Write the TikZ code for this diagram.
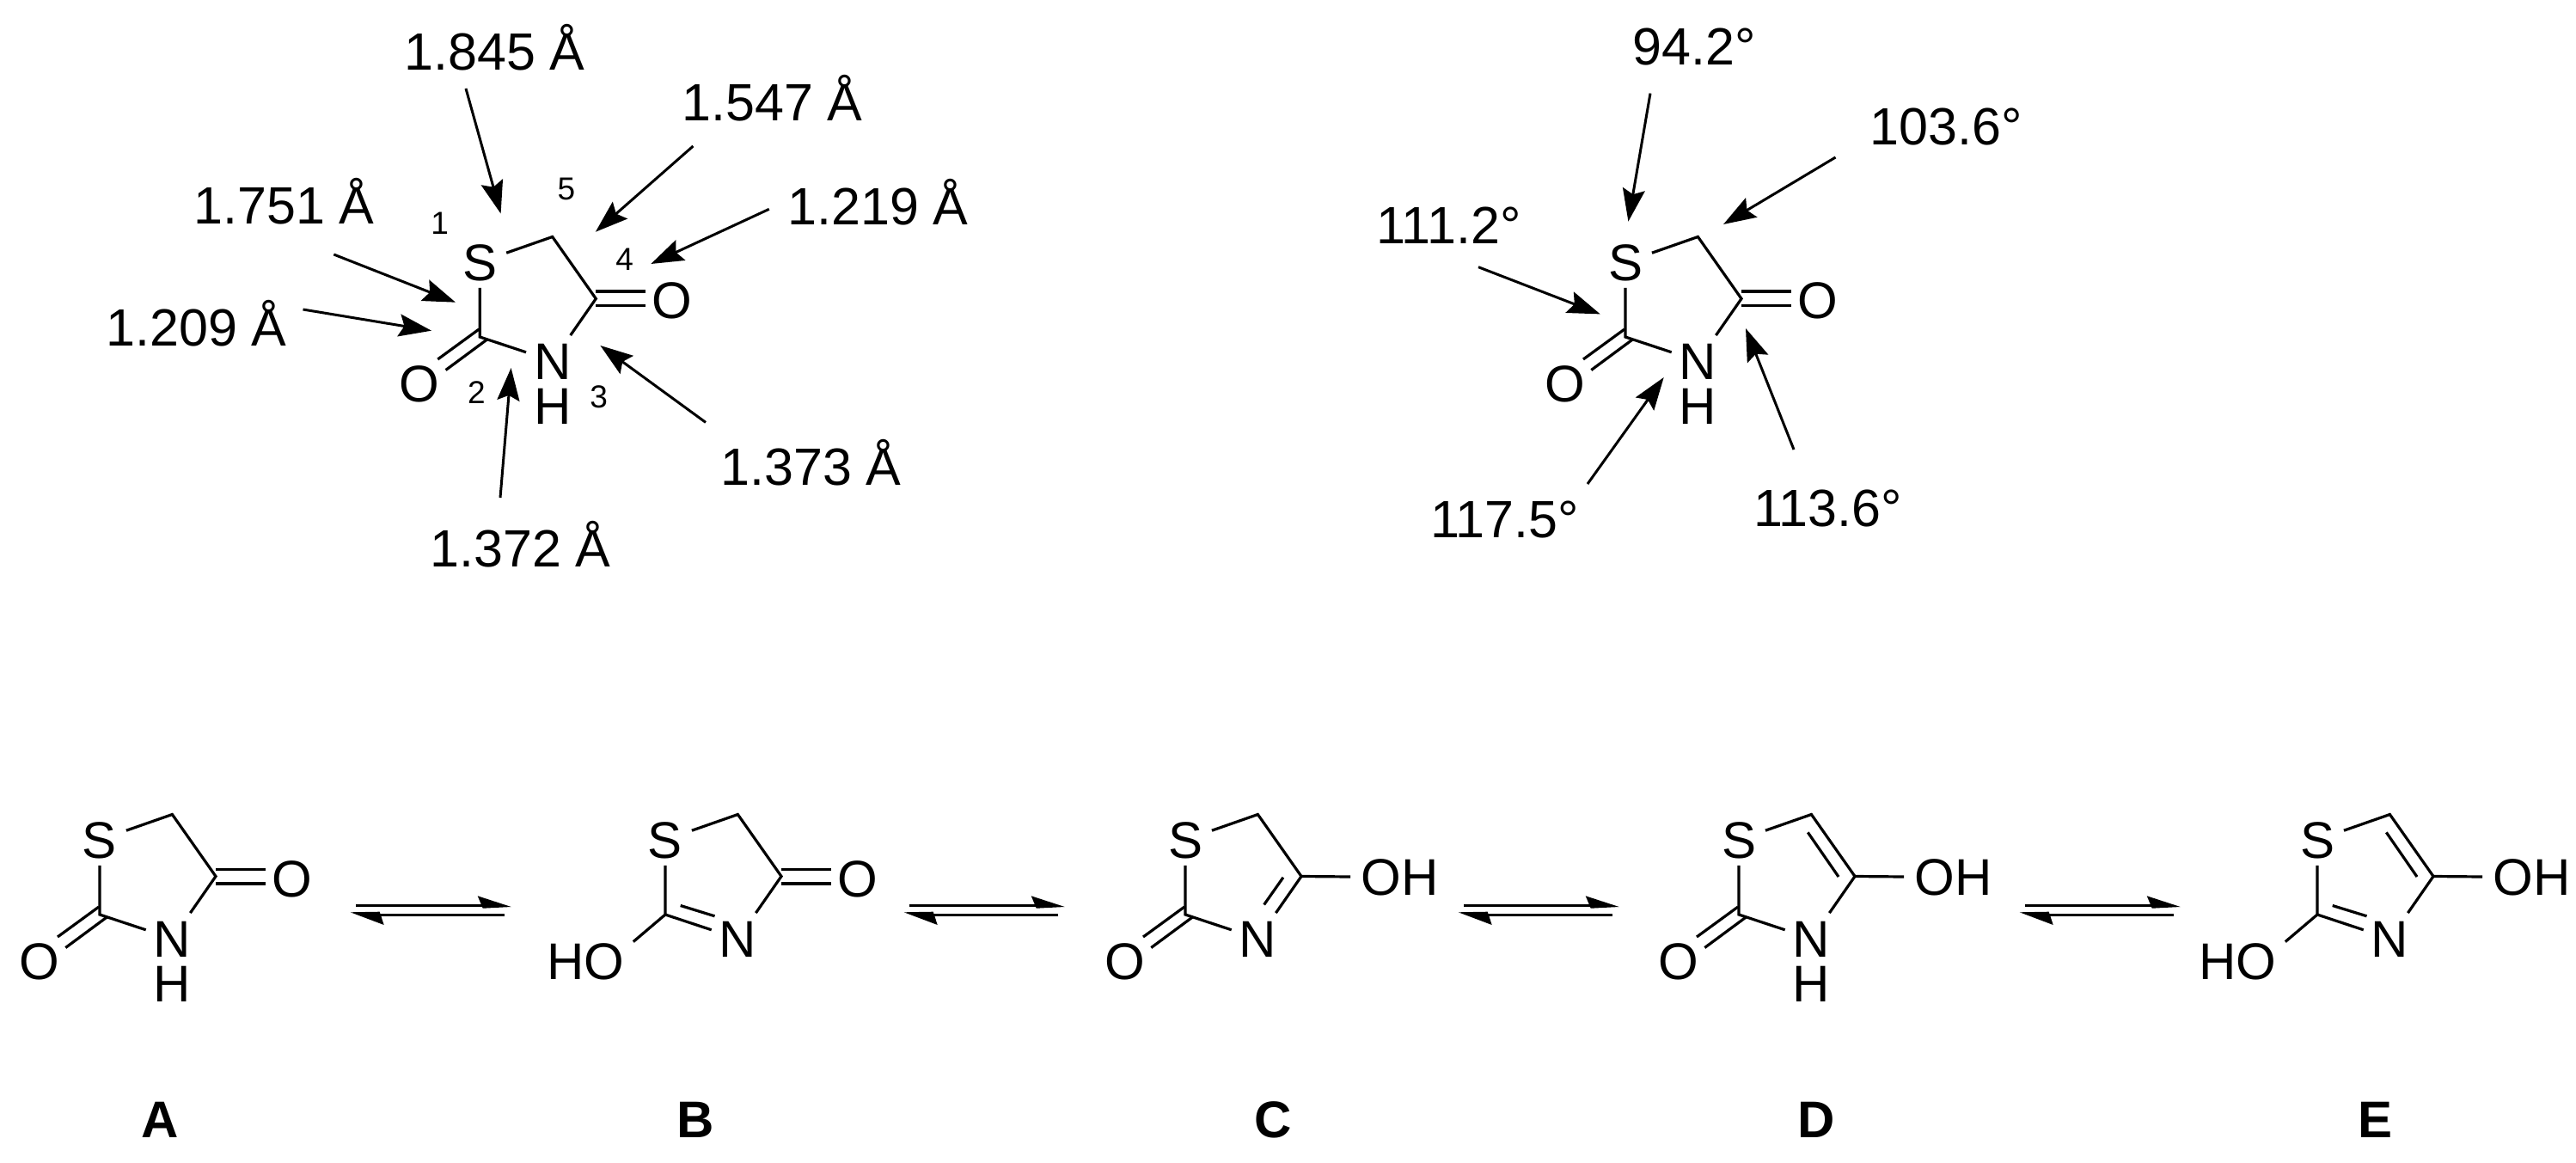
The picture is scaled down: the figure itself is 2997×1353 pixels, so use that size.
\documentclass[tikz,border=0pt]{standalone}
\usepackage{fontspec}
\setmainfont{Liberation Sans}
\usetikzlibrary{arrows.meta}
\tikzset{
  x=0.5pt, y=-0.5pt,
  bond/.style={line width=1.6pt, line join=miter, line cap=butt},
  atom/.style={inner sep=0pt, minimum width=30.5pt, minimum height=29.5pt, text height=21.5pt, text depth=0pt, font=\fontsize{30}{32}\selectfont},
  group/.style={inner sep=0pt, text height=21.5pt, text depth=0pt, font=\fontsize{30}{32}\selectfont},
  value/.style={inner sep=0pt, anchor=base west, font=\fontsize{30.5}{33}\selectfont},
  locant/.style={inner sep=0pt, font=\fontsize{18.5}{20}\selectfont},
  tag/.style={inner sep=0pt, anchor=base, font=\fontsize{30}{32}\selectfont\bfseries},
  pointer/.style={line width=1.5pt, -{Stealth[length=19pt,width=13pt,inset=3pt]}},
  eqline/.style={line width=1.8pt},
}
% five-membered ring, local origin at S
\newcommand{\ringbase}{%
  \node[atom] (S) at (0,0) {S};
  \node[atom] (N) at (84.6,115) {N};
  \coordinate (C5) at (84.4,-29.5);
  \coordinate (C4) at (135,42.5);
  \coordinate (C2) at (0,87);
  \draw[bond] (S) -- (C5) -- (C4) -- (N) -- (C2) -- (S);
}
\newcommand{\ketoFour}{%
  \node[atom] (O4) at (224,44.5) {O};
  \draw[bond] ([yshift=4.2pt]C4) -- ([yshift=4.2pt]C4 -| O4.west);
  \draw[bond] ([yshift=-4.2pt]C4) -- ([yshift=-4.2pt]C4 -| O4.west);
}
\newcommand{\ketoTwo}{%
  \node[atom] (O2) at (-70.4,140.5) {O};
  \coordinate (p1) at (-1,78);    \coordinate (p2) at (-49,113);
  \coordinate (q1) at (9,89.5);   \coordinate (q2) at (-39.7,125.5);
  \draw[bond] (p1) -- (p2);
  \draw[bond] (q1) -- (q2);
}
\newcommand{\imineH}{\node[group] (H) at (84.6,167) {H};}
\newcommand{\hydroxyFour}{%
  \node[group, anchor=west] (OH) at (204,43) {OH};
  \draw[bond] (C4) -- ([xshift=-6pt]OH.west);
}
\newcommand{\hydroxyTwo}{%
  \node[group] (HO) at (-92.6,140.5) {HO};
  \draw[bond] (C2) -- ([xshift=5pt]HO.north east);
}
\newcommand{\innerTwoN}{%
  \coordinate (r1) at (17.7,76.5); \coordinate (r2) at (57.5,88.8);
  \draw[bond] (r1) -- (r2);
}
\newcommand{\innerFourN}{%
  \coordinate (s1) at (113.9,43.8); \coordinate (s2) at (91.6,75.5);
  \draw[bond] (s1) -- (s2);
}
\newcommand{\innerFiveFour}{%
  \coordinate (t1) at (80.3,-8.6); \coordinate (t2) at (116,43);
  \draw[bond] (t1) -- (t2);
}
% equilibrium arrows, local origin at left end of the upper line
\newcommand{\equil}{%
  \coordinate (a1) at (0,0);        \coordinate (a4) at (147,0);
  \coordinate (a2) at (180.4,1.7);  \coordinate (a3) at (141.4,-11);
  \coordinate (a5) at (147.4,3.4);
  \coordinate (b1) at (173,11);     \coordinate (b4) at (27,11);
  \coordinate (b2) at (-6.6,8);     \coordinate (b3) at (32.4,22.7);
  \coordinate (b5) at (27.4,7.4);
  \draw[eqline] (a1) -- (a4);
  \fill (a3) -- (a2) -- (a5) -- cycle;
  \draw[eqline] (b1) -- (b4);
  \fill (b2) -- (b5) -- (b3) -- cycle;
}
\begin{document}
\begin{tikzpicture}
\useasboundingbox (0,0) rectangle (2997,1353);

% top-left molecule
\begin{scope}[shift={(558.3,305)}, name prefix=u-]
  \ringbase \ketoFour \ketoTwo \imineH
\end{scope}
\node[locant] (n1) at (511.7,259.3) {1};
\node[locant] (n5) at (659,220) {5};
\node[locant] (n4) at (726.7,301.7) {4};
\node[locant] (n2) at (554.3,456.7) {2};
\node[locant] (n3) at (696.7,461.7) {3};

\node[value] (d1) at (470,81.7) {1.845 Å};
\node[value] (d2) at (793,141) {1.547 Å};
\node[value] (d3) at (225,261) {1.751 Å};
\node[value] (d4) at (916,262) {1.219 Å};
\node[value] (d5) at (123,402) {1.209 Å};
\node[value] (d6) at (838,564) {1.373 Å};
\node[value] (d7) at (500,659) {1.372 Å};

\coordinate (d1s) at (542,103);     \coordinate (d1e) at (582.6,248.5);
\coordinate (d2s) at (806.4,170);   \coordinate (d2e) at (692.8,269.8);
\coordinate (d3s) at (388.3,296);   \coordinate (d3e) at (530,351.7);
\coordinate (d4s) at (894.8,243.3); \coordinate (d4e) at (757.3,307);
\coordinate (d5s) at (352.5,360);   \coordinate (d5e) at (502,384.7);
\coordinate (d6s) at (821,491.4);   \coordinate (d6e) at (698.4,402);
\coordinate (d7s) at (582,579);     \coordinate (d7e) at (594.6,428);
\foreach \k in {1,...,7} \draw[pointer] (d\k s) -- (d\k e);

% top-right molecule
\begin{scope}[shift={(1891,305)}, name prefix=v-]
  \ringbase \ketoFour \ketoTwo \imineH
\end{scope}
\node[value] (g1) at (1899.5,76) {94.2°};
\node[value] (g2) at (2175,168.5) {103.6°};
\node[value] (g3) at (1601,284) {111.2°};
\node[value] (g4) at (1664,625) {117.5°};
\node[value] (g5) at (2040,612) {113.6°};

\coordinate (g1s) at (1920,108.6);  \coordinate (g1e) at (1894.4,257.7);
\coordinate (g2s) at (2135.5,183);  \coordinate (g2e) at (2005,261);
\coordinate (g3s) at (1720,310.7);  \coordinate (g3e) at (1861.7,365.4);
\coordinate (g4s) at (1847,563);    \coordinate (g4e) at (1935.7,439);
\coordinate (g5s) at (2087,523);    \coordinate (g5e) at (2031,382);
\foreach \k in {1,...,5} \draw[pointer] (g\k s) -- (g\k e);

% tautomers
\begin{scope}[shift={(116,977)}, name prefix=a-]
  \ringbase \ketoFour \ketoTwo \imineH
\end{scope}
\begin{scope}[shift={(774,977)}, name prefix=b-]
  \ringbase \ketoFour \hydroxyTwo \innerTwoN
\end{scope}
\begin{scope}[shift={(1379,977)}, name prefix=c-]
  \ringbase \hydroxyFour \ketoTwo \innerFourN
\end{scope}
\begin{scope}[shift={(2023,977)}, name prefix=d-]
  \ringbase \hydroxyFour \ketoTwo \imineH \innerFiveFour
\end{scope}
\begin{scope}[shift={(2696,977)}, name prefix=e-]
  \ringbase \hydroxyFour \hydroxyTwo \innerTwoN \innerFiveFour
\end{scope}

\begin{scope}[shift={(414.3,1053.3)}, name prefix=e1-] \equil \end{scope}
\begin{scope}[shift={(1058.3,1053.3)}, name prefix=e2-] \equil \end{scope}
\begin{scope}[shift={(1703.3,1053.3)}, name prefix=e3-] \equil \end{scope}
\begin{scope}[shift={(2356.3,1053.3)}, name prefix=e4-] \equil \end{scope}

\node[tag] (la) at (186,1323) {A};
\node[tag] (lb) at (809,1323) {B};
\node[tag] (lc) at (1481,1323) {C};
\node[tag] (ld) at (2113,1323) {D};
\node[tag] (le) at (2763,1323) {E};
\end{tikzpicture}
\end{document}
